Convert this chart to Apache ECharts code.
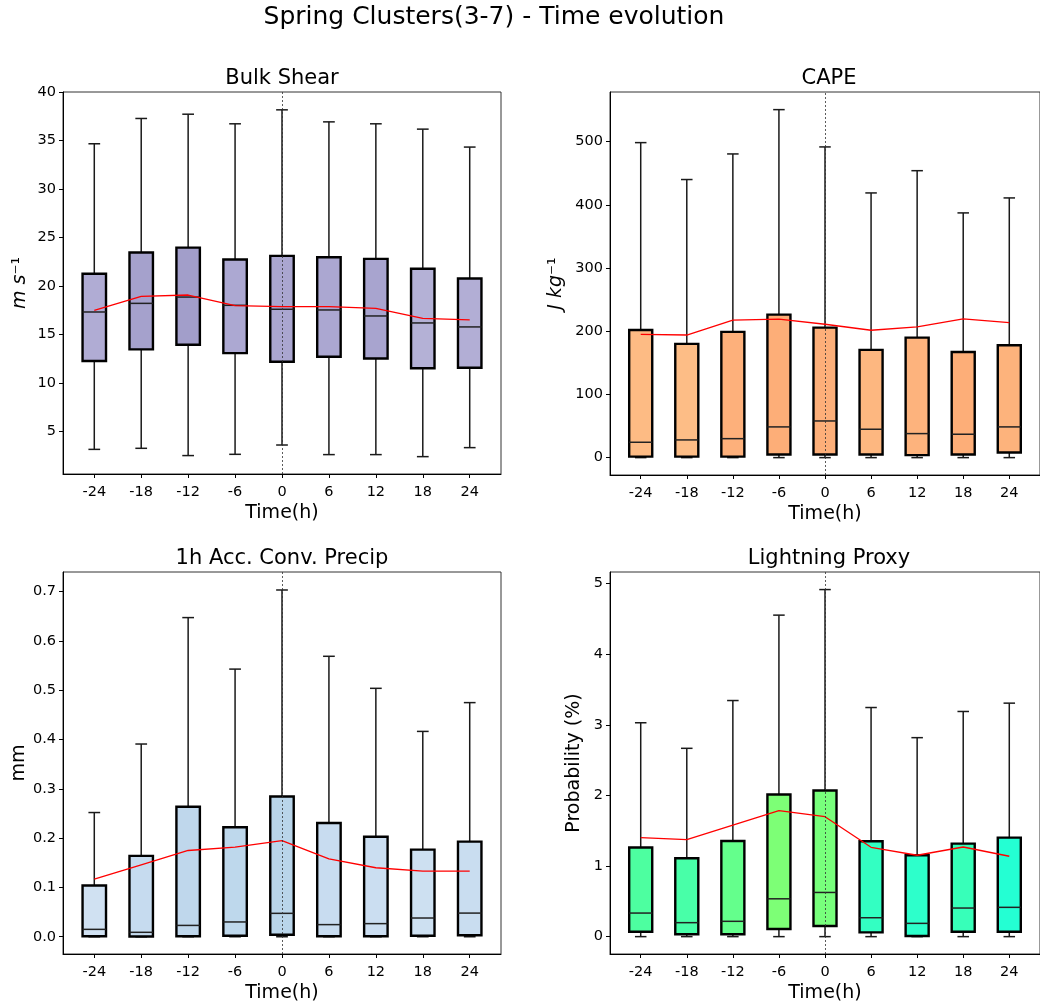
<!DOCTYPE html>
<html>
<head>
<meta charset="utf-8">
<script src="https://cdn.jsdelivr.net/npm/echarts@6/dist/echarts.min.js"></script>
<style>
  html, body { margin: 0; padding: 0; background: #ffffff; }
  #chart { width: 1040px; height: 1007px; }
</style>
</head>
<body>
<div id="chart"></div>
<script>
// Forecast lead time relative to the event (hours)
const hours = [-24, -18, -12, -6, 0, 6, 12, 18, 24];

// Box statistics per lead time: [lower whisker, Q1, median, Q3, upper whisker]
const shearStats = [
  [3.14, 12.25, 17.31, 21.25, 34.66],
  [3.25, 13.45, 18.20, 23.44, 37.27],
  [2.50, 13.93, 18.85, 23.95, 37.71],
  [2.63, 13.07, 18.00, 22.72, 36.72],
  [3.59, 12.18, 17.59, 23.10, 38.16],
  [2.60, 12.69, 17.52, 22.96, 36.92],
  [2.60, 12.52, 16.90, 22.79, 36.72],
  [2.39, 11.50, 16.18, 21.77, 36.17],
  [3.32, 11.56, 15.77, 20.77, 34.32]
];
const shearMean = [17.48, 18.92, 19.06, 17.97, 17.86, 17.86, 17.69, 16.66, 16.49];
const shearColors = ['#b0acd4', '#a5a1cc', '#a29eca', '#aca8d2', '#aaa6d0', '#aba7d1', '#a8a4cf', '#b4b1d6', '#b2aed5'];

const capeStats = [
  [0, 1.5, 24.3, 202.0, 498.4],
  [0, 1.5, 28.0, 180.0, 440.0],
  [0, 1.5, 30.0, 199.0, 480.5],
  [0, 5.0, 48.6, 226.3, 550.6],
  [0, 5.0, 58.0, 205.7, 491.6],
  [0, 5.0, 44.9, 170.4, 418.8],
  [0, 4.0, 38.0, 189.9, 454.0],
  [0, 5.0, 37.0, 167.2, 387.2],
  [0, 8.0, 48.6, 177.8, 410.9]
];
const capeMean = [195.0, 194.0, 217.4, 219.0, 211.0, 201.5, 206.8, 219.5, 213.6];
const capeColors = ['#fdbb84', '#fdbd86', '#fdb07b', '#fdae78', '#fdaf79', '#fdb780', '#fdb37d', '#fdae78', '#fdb37c'];

const precipStats = [
  [0, 0.001, 0.015, 0.104, 0.252],
  [0, 0.0005, 0.009, 0.164, 0.391],
  [0, 0.001, 0.023, 0.2636, 0.6475],
  [0, 0.002, 0.030, 0.222, 0.543],
  [0, 0.004, 0.0475, 0.2845, 0.7035],
  [0, 0.001, 0.0246, 0.2307, 0.569],
  [0, 0.001, 0.0266, 0.203, 0.504],
  [0, 0.002, 0.038, 0.1768, 0.4166],
  [0, 0.003, 0.048, 0.193, 0.475]
];
const precipMean = [0.117, 0.146, 0.175, 0.182, 0.195, 0.158, 0.140, 0.133, 0.133];
const precipColors = ['#d0e1f2', '#c6dbef', '#bfd7ec', '#bed8ec', '#b9d5ea', '#c8dcf0', '#cbdef1', '#cde0f1', '#c9ddf0'];

const lightningStats = [
  [0, 0.070, 0.334, 1.262, 3.030],
  [0, 0.033, 0.198, 1.111, 2.668],
  [0, 0.033, 0.217, 1.355, 3.345],
  [0, 0.109, 0.536, 2.014, 4.555],
  [0, 0.151, 0.626, 2.070, 4.917],
  [0, 0.060, 0.268, 1.351, 3.246],
  [0, 0.010, 0.188, 1.153, 2.819],
  [0, 0.070, 0.405, 1.318, 3.190],
  [0, 0.070, 0.415, 1.403, 3.308]
];
const lightningMean = [1.403, 1.374, 1.580, 1.784, 1.699, 1.266, 1.153, 1.270, 1.139];
const lightningColors = ['#4dffa0', '#48ffa8', '#64ff8c', '#7dff76', '#78ff7c', '#33ffc2', '#2dffcb', '#37ffb9', '#24ffd3'];

// Tick values shown on each y axis
const shearTicks = [5, 10, 15, 20, 25, 30, 35, 40];
const capeTicks = [0, 100, 200, 300, 400, 500];
const precipTicks = [0, 0.1, 0.2, 0.3, 0.4, 0.5, 0.6, 0.7];
const lightningTicks = [0, 1, 2, 3, 4, 5];

const FONT = 'DejaVu Sans';
const chart = echarts.init(document.getElementById('chart'), null, { renderer: 'canvas' });

// Panel frames (pixels)
const panels = [
  { left: 63, top: 92, width: 438, height: 382 },
  { left: 610, top: 92, width: 438, height: 383 },
  { left: 63, top: 572, width: 438, height: 382 },
  { left: 610, top: 572, width: 438, height: 382 }
];

function boxRenderer(colors) {
  return function (params, api) {
    const x = api.value(0);
    const lo = api.coord([x, api.value(1)]);
    const q1 = api.coord([x, api.value(2)]);
    const med = api.coord([x, api.value(3)]);
    const q3 = api.coord([x, api.value(4)]);
    const hi = api.coord([x, api.value(5)]);
    const step = api.size([6, 0])[0];
    const hw = step * 0.25;
    const cw = step * 0.125;
    const cx = lo[0];
    const wStyle = { stroke: '#1a1a1a', lineWidth: 1.5 };
    return {
      type: 'group',
      children: [
        { type: 'line', shape: { x1: cx, y1: hi[1], x2: cx, y2: q3[1] }, style: wStyle },
        { type: 'line', shape: { x1: cx, y1: q1[1], x2: cx, y2: lo[1] }, style: wStyle },
        { type: 'line', shape: { x1: cx - cw, y1: hi[1], x2: cx + cw, y2: hi[1] }, style: wStyle },
        { type: 'line', shape: { x1: cx - cw, y1: lo[1], x2: cx + cw, y2: lo[1] }, style: wStyle },
        {
          type: 'rect',
          shape: { x: cx - hw, y: q3[1], width: hw * 2, height: q1[1] - q3[1] },
          style: { fill: colors[params.dataIndex], stroke: '#000000', lineWidth: 2.4 }
        },
        { type: 'line', shape: { x1: cx - hw, y1: med[1], x2: cx + hw, y2: med[1] }, style: { stroke: '#222222', lineWidth: 1.5 } }
      ]
    };
  };
}

const specs = [
  { title: 'Bulk Shear', stats: shearStats, mean: shearMean, colors: shearColors, ticks: shearTicks,
    min: 0.6, max: 40, name: '{i|m s}{s|⁻¹}', gap: 33, fmt: v => String(v) },
  { title: 'CAPE', stats: capeStats, mean: capeMean, colors: capeColors, ticks: capeTicks,
    min: -27.5, max: 578.5, name: '{i|J kg}{s|⁻¹}', gap: 44, fmt: v => String(v) },
  { title: '1h Acc. Conv. Precip', stats: precipStats, mean: precipMean, colors: precipColors, ticks: precipTicks,
    min: -0.035, max: 0.74, name: '{s|mm}', gap: 33, fmt: v => v.toFixed(1) },
  { title: 'Lightning Proxy', stats: lightningStats, mean: lightningMean, colors: lightningColors, ticks: lightningTicks,
    min: -0.246, max: 5.166, name: '{s|Probability (%)}', gap: 26, fmt: v => String(v) }
];

const titles = [{
  text: 'Spring Clusters(3-7) - Time evolution',
  left: 494, top: 5, textAlign: 'center', padding: 0,
  textStyle: { fontFamily: FONT, fontSize: 25, fontWeight: 'normal', color: '#000' }
}];
const grids = [], xAxes = [], yAxes = [], series = [];

specs.forEach((s, k) => {
  const p = panels[k];
  titles.push({
    text: s.title,
    left: p.left + 219, top: p.top - 24, textAlign: 'center', padding: 0,
    textStyle: { fontFamily: FONT, fontSize: 21, fontWeight: 'normal', color: '#000' }
  });
  grids.push({
    left: p.left, top: p.top, width: p.width, height: p.height,
    show: true, borderColor: '#333', borderWidth: 1, backgroundColor: 'transparent', containLabel: false
  });
  xAxes.push({
    gridIndex: k, type: 'value', min: -28, max: 28,
    name: 'Time(h)', nameLocation: 'middle', nameGap: 30,
    nameTextStyle: { fontFamily: FONT, fontSize: 19, color: '#000' },
    axisLine: { show: true, onZero: false, lineStyle: { color: '#000', width: 1 } },
    axisTick: { show: true, length: 4, customValues: hours, lineStyle: { color: '#000' } },
    axisLabel: { show: true, customValues: hours, margin: 11, fontFamily: FONT, fontSize: 14.5, color: '#000' },
    splitLine: { show: false }
  });
  yAxes.push({
    gridIndex: k, type: 'value', min: s.min, max: s.max,
    name: s.name, nameLocation: 'middle', nameGap: s.gap, nameRotate: 90,
    nameTextStyle: {
      fontFamily: FONT, fontSize: 19, color: '#000',
      rich: {
        i: { fontFamily: FONT, fontSize: 19, fontStyle: 'italic', color: '#000' },
        s: { fontFamily: FONT, fontSize: 19, color: '#000' }
      }
    },
    axisLine: { show: true, onZero: false, lineStyle: { color: '#000', width: 1 } },
    axisTick: { show: true, length: 4, customValues: s.ticks, lineStyle: { color: '#000' } },
    axisLabel: { show: true, customValues: s.ticks, margin: 7, fontFamily: FONT, fontSize: 14.5, color: '#000', formatter: s.fmt },
    splitLine: { show: false }
  });
  series.push({
    type: 'custom', xAxisIndex: k, yAxisIndex: k, z: 2,
    renderItem: boxRenderer(s.colors),
    encode: { x: 0, y: [1, 2, 3, 4, 5] },
    data: hours.map((h, i) => [h].concat(s.stats[i]))
  });
  series.push({
    type: 'line', xAxisIndex: k, yAxisIndex: k, z: 4,
    showSymbol: false, symbol: 'none',
    lineStyle: { color: '#ff0000', width: 1.3 },
    data: hours.map((h, i) => [h, s.mean[i]]),
    markLine: {
      silent: true, symbol: 'none', label: { show: false },
      lineStyle: { type: [2, 2], color: '#333', width: 0.8 },
      data: [{ xAxis: 0 }]
    }
  });
});

chart.setOption({
  animation: false,
  backgroundColor: '#ffffff',
  title: titles,
  grid: grids,
  xAxis: xAxes,
  yAxis: yAxes,
  series: series
});
</script>
</body>
</html>
